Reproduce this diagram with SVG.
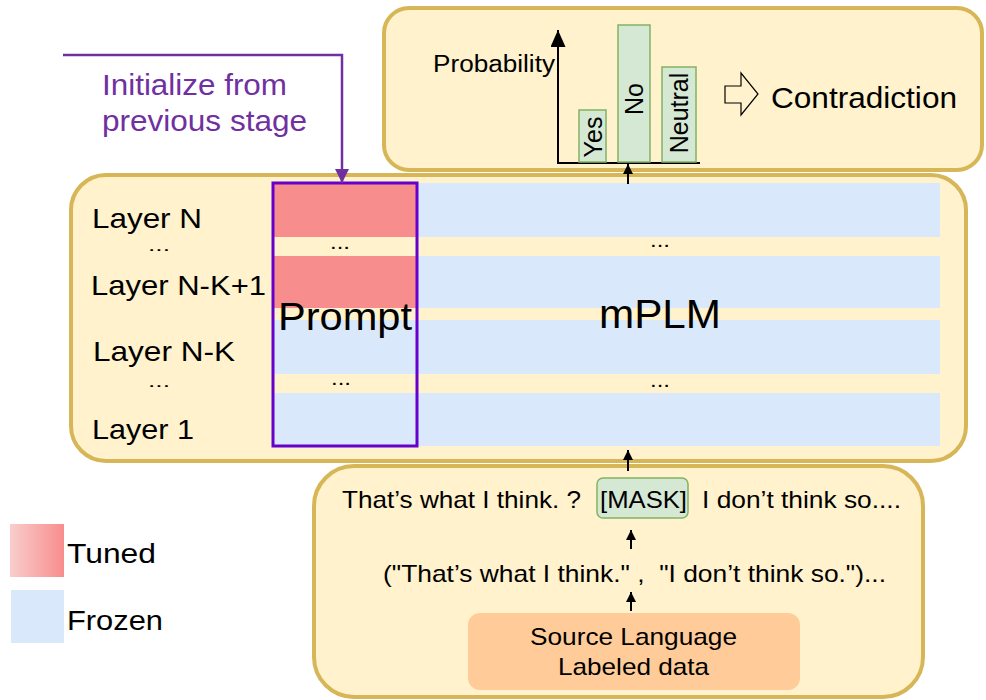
<svg xmlns="http://www.w3.org/2000/svg" width="986" height="700" viewBox="0 0 986 700">
  <style>
    .box { fill: #fff2cc; stroke: #d6b656; stroke-width: 4; }
    .frozen { fill: #dae8fc; }
    .tuned { fill: #f88d8d; }
    .bar { fill: #d5e8d4; stroke: #82b366; stroke-width: 1.5; }
    .t { font-family: "Liberation Sans", Arial, sans-serif; fill: #000; }
    .p { font-family: "Liberation Sans", Arial, sans-serif; fill: #7030a0; }
    .conn { stroke: #000; stroke-width: 2; fill: none; }
  </style>
  <defs>
    <marker id="head" markerUnits="userSpaceOnUse" markerWidth="10" markerHeight="10" refX="10" refY="5" orient="auto">
      <path d="M0,0 L10,5 L0,10 z" fill="#000"/>
    </marker>
    <marker id="axisHead" markerUnits="userSpaceOnUse" markerWidth="17" markerHeight="15" refX="17" refY="7.5" orient="auto">
      <path d="M0,0 L17,7.5 L0,15 z" fill="#000"/>
    </marker>
    <marker id="purpleHead" markerUnits="userSpaceOnUse" markerWidth="14" markerHeight="14" refX="14" refY="7" orient="auto">
      <path d="M0,0 L14,7 L0,14 z" fill="#7030a0"/>
    </marker>
    <linearGradient id="tunedGrad" x1="0" y1="0" x2="1" y2="0">
      <stop offset="0" stop-color="#f8cecc"/>
      <stop offset="1" stop-color="#f88d8d"/>
    </linearGradient>
  </defs>

  <!-- output: label distribution -->
  <g id="output">
    <rect class="box" x="384" y="8" width="598" height="162" rx="25"/>
    <text class="t" x="433" y="72" font-size="23" textLength="122" lengthAdjust="spacingAndGlyphs">Probability</text>
    <line class="conn" x1="558" y1="164" x2="558" y2="30" marker-end="url(#axisHead)"/>
    <line class="conn" x1="557" y1="163" x2="700" y2="163"/>
    <rect class="bar" x="579" y="110" width="27" height="52"/>
    <rect class="bar" x="618" y="25" width="32" height="137"/>
    <rect class="bar" x="662" y="67" width="34" height="95"/>
    <text class="t" font-size="25" text-anchor="middle" transform="translate(593,137) rotate(-90)" y="9">Yes</text>
    <text class="t" font-size="25" text-anchor="middle" transform="translate(634,99) rotate(-90)" y="9">No</text>
    <text class="t" font-size="25" text-anchor="middle" transform="translate(679,113) rotate(-90)" y="9">Neutral</text>
    <path d="M725,86 H741 V73 L758,94 L741,115 V103 H725 Z" fill="#fff2cc" stroke="#000" stroke-width="1.2"/>
    <text class="t" x="771" y="108" font-size="29" textLength="186" lengthAdjust="spacingAndGlyphs">Contradiction</text>
  </g>

  <!-- mPLM with prompt layers -->
  <g id="mplm">
    <rect class="box" x="71" y="175" width="895" height="286" rx="35"/>
    <rect class="frozen" x="273" y="183" width="667" height="54"/>
    <rect class="frozen" x="273" y="256" width="667" height="52"/>
    <rect class="frozen" x="273" y="320" width="667" height="54"/>
    <rect class="frozen" x="273" y="393" width="667" height="53"/>
    <text class="t" x="650" y="247" font-size="20" textLength="20" lengthAdjust="spacingAndGlyphs">...</text>
    <text class="t" x="650" y="387" font-size="20" textLength="20" lengthAdjust="spacingAndGlyphs">...</text>
    <text class="t" x="599" y="328" font-size="41" textLength="122" lengthAdjust="spacingAndGlyphs">mPLM</text>
    <text class="t" x="92" y="228" font-size="28" textLength="110" lengthAdjust="spacingAndGlyphs">Layer N</text>
    <text class="t" x="148" y="251" font-size="17" textLength="22" lengthAdjust="spacingAndGlyphs">...</text>
    <text class="t" x="91" y="295" font-size="28" textLength="175" lengthAdjust="spacingAndGlyphs">Layer N-K+1</text>
    <text class="t" x="93" y="361" font-size="28" textLength="142" lengthAdjust="spacingAndGlyphs">Layer N-K</text>
    <text class="t" x="148" y="387" font-size="17" textLength="22" lengthAdjust="spacingAndGlyphs">...</text>
    <text class="t" x="92" y="439" font-size="28" textLength="102" lengthAdjust="spacingAndGlyphs">Layer 1</text>
  </g>

  <g id="prompt">
    <rect class="tuned" x="273" y="183" width="144" height="54"/>
    <rect class="tuned" x="273" y="256" width="144" height="52"/>
    <text class="t" x="330" y="249" font-size="20" textLength="20" lengthAdjust="spacingAndGlyphs">...</text>
    <text class="t" x="331" y="385" font-size="20" textLength="20" lengthAdjust="spacingAndGlyphs">...</text>
    <text class="t" x="278" y="330" font-size="39" textLength="134" lengthAdjust="spacingAndGlyphs">Prompt</text>
    <rect x="273" y="183" width="144" height="263" fill="none" stroke="#6600cc" stroke-width="3"/>
  </g>

  <!-- input construction -->
  <g id="input">
    <rect class="box" x="314" y="466" width="609" height="231" rx="40"/>
    <text class="t" x="342" y="508" font-size="24" textLength="239" lengthAdjust="spacingAndGlyphs">That’s what I think. ?</text>
    <rect x="597" y="478" width="91" height="40" rx="6" fill="#d5e8d4" stroke="#82b366" stroke-width="1.5"/>
    <text class="t" x="600" y="508" font-size="24" textLength="87" lengthAdjust="spacingAndGlyphs">[MASK]</text>
    <text class="t" x="702" y="508" font-size="24" textLength="199" lengthAdjust="spacingAndGlyphs">I don’t think so....</text>
    <text class="t" x="383" y="582" font-size="24" textLength="503" lengthAdjust="spacingAndGlyphs" xml:space="preserve">("That’s what I think." ,  "I don’t think so.")...</text>
  </g>

  <g id="source">
    <rect x="468" y="613" width="332" height="77" rx="12" fill="#ffcc99"/>
    <text class="t" x="530" y="645" font-size="24" textLength="207" lengthAdjust="spacingAndGlyphs">Source Language</text>
    <text class="t" x="558" y="675" font-size="24" textLength="151" lengthAdjust="spacingAndGlyphs">Labeled data</text>
  </g>

  <!-- legend -->
  <g id="legend">
    <rect x="10" y="524" width="54" height="53" fill="url(#tunedGrad)"/>
    <text class="t" x="67" y="563" font-size="28" textLength="89" lengthAdjust="spacingAndGlyphs">Tuned</text>
    <rect class="frozen" x="11" y="590" width="53" height="53"/>
    <text class="t" x="67" y="630" font-size="28" textLength="96" lengthAdjust="spacingAndGlyphs">Frozen</text>
  </g>

  <g id="init-note">
    <text class="p" x="102" y="95" font-size="30" textLength="185" lengthAdjust="spacingAndGlyphs">Initialize from</text>
    <text class="p" x="102" y="131" font-size="30" textLength="205" lengthAdjust="spacingAndGlyphs">previous stage</text>
  </g>

  <g id="connectors">
    <path d="M63,55 H342 V183" fill="none" stroke="#7030a0" stroke-width="2.5" marker-end="url(#purpleHead)"/>
    <line class="conn" x1="628" y1="184" x2="628" y2="164" marker-end="url(#head)"/>
    <line class="conn" x1="628" y1="471" x2="628" y2="450" marker-end="url(#head)"/>
    <line class="conn" x1="631" y1="549" x2="631" y2="530" marker-end="url(#head)"/>
    <line class="conn" x1="631" y1="611" x2="631" y2="592" marker-end="url(#head)"/>
  </g>
</svg>
